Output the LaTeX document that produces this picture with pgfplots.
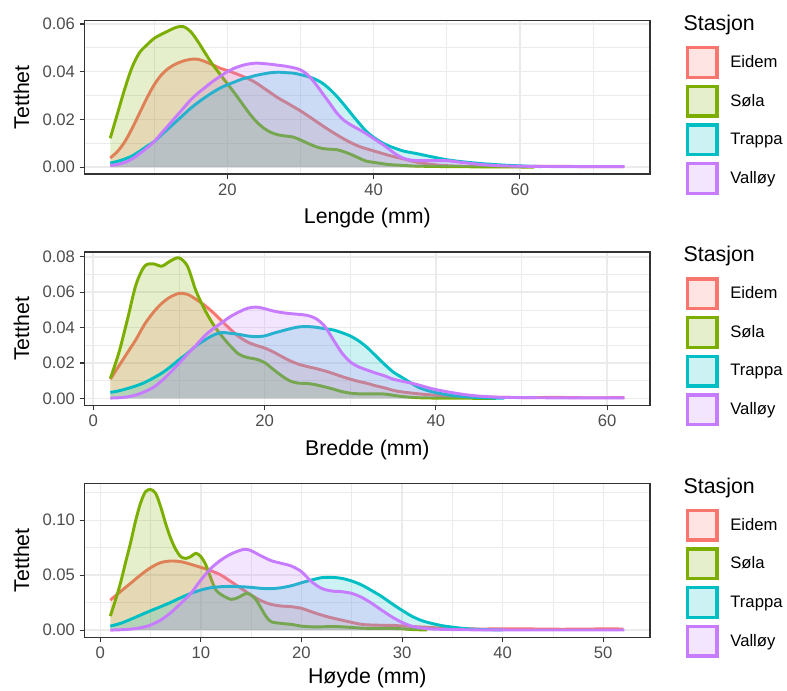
\documentclass[border=0pt]{standalone}
\usepackage{pgfplots}
\pgfplotsset{compat=1.18}
\usepackage{pgfplotstable}
\usepackage{fontspec}
\setmainfont{Liberation Sans}
\definecolor{cE}{HTML}{F8766D}
\definecolor{cS}{HTML}{7CAE00}
\definecolor{cT}{HTML}{00BFC4}
\definecolor{cV}{HTML}{C77CFF}
\definecolor{gridc}{HTML}{EBEBEB}
\definecolor{g20}{HTML}{333333}
\definecolor{g30}{HTML}{4D4D4D}

% ---------- Lengde ----------
\pgfplotstableread{
x y
4 0.0038
5 0.0066
6 0.0107
7 0.0163
8 0.0226
9 0.0289
10 0.0345
11 0.0387
12 0.0415
13 0.0433
14 0.0445
15 0.0452
16 0.0452
17 0.0442
18 0.0429
19 0.0415
20 0.0405
21 0.0394
22 0.0382
23 0.0369
24 0.0352
25 0.0331
26 0.0310
27 0.0289
28 0.0272
29 0.0254
30 0.0236
31 0.0216
32 0.0195
33 0.0174
34 0.0154
35 0.0135
36 0.0117
37 0.0101
38 0.0087
39 0.0077
40 0.0068
41 0.0059
42 0.0050
43 0.0042
44 0.0035
46 0.0020
48 0.0011
50 0.0006
53 0.0003
56 0.0002
60 0.0002
63 0.0003
66 0.0003
69 0.0002
72 0.0002
74.3 0.0002
}\LE
\pgfplotstableread{
x y
4 0.0121
5 0.0226
6 0.0330
7 0.0420
8 0.0480
9 0.0512
10 0.0540
11 0.0557
12 0.0572
13 0.0586
14 0.0589
15 0.0568
16 0.0526
17 0.0477
18 0.0430
19 0.0390
20 0.0350
21 0.0310
22 0.0268
23 0.0226
24 0.0190
25 0.0163
26 0.0145
27 0.0135
28 0.0130
29 0.0126
30 0.0114
31 0.0100
32 0.0087
33 0.0078
34 0.0075
35 0.0073
36 0.0064
37 0.0052
38 0.0038
39 0.0025
40 0.0020
42 0.0011
44 0.0007
46 0.0004
50 0.0002
55 0.0001
62 0.0000
}\LS
\pgfplotstableread{
x y
4 0.0017
5 0.0024
6 0.0034
7 0.0047
8 0.0066
9 0.0087
10 0.0107
11 0.0135
12 0.0163
13 0.0191
14 0.0219
15 0.0247
16 0.0271
17 0.0293
18 0.0313
19 0.0331
20 0.0345
21 0.0357
22 0.0369
23 0.0377
24 0.0385
25 0.0391
26 0.0396
27 0.0398
28 0.0396
29 0.0394
30 0.0388
31 0.0380
32 0.0369
33 0.0352
34 0.0327
35 0.0296
36 0.0260
37 0.0222
38 0.0185
39 0.0150
40 0.0125
41 0.0105
42 0.0090
44 0.0068
46 0.0056
48 0.0043
50 0.0031
52 0.0023
55 0.0014
58 0.0008
61 0.0004
63 0.0002
}\LT
\pgfplotstableread{
x y
4 0.0007
5 0.0011
6 0.0020
7 0.0034
8 0.0056
9 0.0080
10 0.0107
11 0.0142
12 0.0177
13 0.0212
14 0.0247
15 0.0282
16 0.0310
17 0.0335
18 0.0359
19 0.0380
20 0.0400
21 0.0415
22 0.0426
23 0.0433
24 0.0436
25 0.0434
26 0.0431
27 0.0427
28 0.0423
29 0.0417
30 0.0408
31 0.0387
32 0.0352
33 0.0310
34 0.0268
35 0.0226
36 0.0195
37 0.0175
38 0.0158
39 0.0140
40 0.0120
41 0.0100
42 0.0078
43 0.0055
44 0.0038
45 0.0030
46 0.0027
48 0.0027
50 0.0027
52 0.0020
55 0.0010
58 0.0005
62 0.0003
66 0.0002
70 0.0002
74.3 0.0002
}\LV

% ---------- Bredde ----------
\pgfplotstableread{
x y
2 0.0109
3 0.0184
4 0.0259
5 0.0334
6 0.0419
7 0.0485
8 0.0537
9 0.0573
10 0.0593
11 0.0588
12 0.0560
13 0.0526
14 0.0485
15 0.0438
16 0.0391
17 0.0349
18 0.0319
19 0.0300
20 0.0285
21 0.0263
22 0.0237
23 0.0212
24 0.0193
25 0.0180
26 0.0169
27 0.0156
28 0.0141
29 0.0124
30 0.0109
31 0.0096
32 0.0085
33 0.0071
34 0.0060
35 0.0046
36 0.0037
38 0.0026
40 0.0018
42 0.0013
45 0.0009
48 0.0006
51 0.0005
54 0.0006
57 0.0004
60 0.0004
62 0.0005
}\BE
\pgfplotstableread{
x y
2 0.0113
3 0.0259
4 0.0447
5 0.0644
6 0.0747
7 0.0760
8 0.0747
9 0.0776
10 0.0794
11 0.0747
12 0.0607
13 0.0503
14 0.0419
15 0.0353
16 0.0297
17 0.0250
18 0.0231
19 0.0222
20 0.0203
21 0.0165
22 0.0128
23 0.0098
24 0.0086
25 0.0085
26 0.0077
27 0.0066
28 0.0053
29 0.0039
30 0.0030
31 0.0026
32 0.0026
33 0.0026
34 0.0025
35 0.0018
36 0.0011
37 0.0007
38 0.0004
40 0.0002
44 0.0001
47 0.0000
}\BS
\pgfplotstableread{
x y
2 0.0034
3 0.0043
4 0.0056
5 0.0071
6 0.0090
7 0.0115
8 0.0143
9 0.0178
10 0.0218
11 0.0255
12 0.0297
13 0.0329
14 0.0357
15 0.0372
16 0.0368
17 0.0362
18 0.0353
19 0.0349
20 0.0353
21 0.0368
22 0.0381
23 0.0394
24 0.0404
25 0.0406
26 0.0402
27 0.0394
28 0.0387
29 0.0372
30 0.0353
31 0.0325
32 0.0287
33 0.0240
34 0.0193
35 0.0150
36 0.0120
37 0.0090
38 0.0062
39 0.0045
40 0.0033
42 0.0016
44 0.0008
46 0.0003
48 0.0001
}\BT
\pgfplotstableread{
x y
2 0.0002
3 0.0004
4 0.0009
5 0.0020
6 0.0038
7 0.0062
8 0.0100
9 0.0146
10 0.0197
11 0.0250
12 0.0300
13 0.0353
14 0.0394
15 0.0428
16 0.0462
17 0.0488
18 0.0509
19 0.0516
20 0.0507
21 0.0494
22 0.0485
23 0.0479
24 0.0475
25 0.0469
26 0.0451
27 0.0409
28 0.0334
29 0.0259
30 0.0207
31 0.0178
32 0.0160
33 0.0143
34 0.0128
35 0.0109
36 0.0098
37 0.0088
38 0.0076
39 0.0062
40 0.0050
42 0.0032
44 0.0018
46 0.0010
48 0.0006
52 0.0004
56 0.0003
62 0.0003
}\BV

% ---------- Hoyde ----------
\pgfplotstableread{
x y
1 0.0273
2 0.0350
3 0.0425
4 0.0501
5 0.0568
6 0.0614
7 0.0629
8 0.0623
9 0.0599
10 0.0571
11 0.0541
12 0.0501
13 0.0441
14 0.0380
15 0.0319
16 0.0267
17 0.0234
18 0.0219
19 0.0213
20 0.0198
21 0.0167
22 0.0137
23 0.0112
24 0.0091
25 0.0070
26 0.0052
27 0.0046
28 0.0044
29 0.0043
30 0.0038
32 0.0028
34 0.0018
36 0.0012
38 0.0010
40 0.0012
42 0.0012
44 0.0009
46 0.0008
48 0.0009
50 0.0011
52 0.0010
}\HE
\pgfplotstableread{
x y
1 0.0128
1.5 0.0270
2 0.0425
2.5 0.0610
3 0.0790
3.5 0.0990
4 0.1155
4.5 0.1260
5 0.1280
5.5 0.1246
6 0.1125
6.5 0.0970
7 0.0836
7.5 0.0735
8 0.0669
8.5 0.0653
9 0.0669
9.5 0.0700
10 0.0669
10.5 0.0593
11 0.0471
11.5 0.0365
12 0.0325
12.5 0.0298
13 0.0280
13.5 0.0289
14 0.0310
14.5 0.0334
15 0.0319
15.5 0.0274
16 0.0198
16.5 0.0122
17 0.0076
18 0.0061
19 0.0052
20 0.0036
21 0.0030
22 0.0030
23 0.0033
24 0.0030
25 0.0024
26 0.0018
27 0.0015
28 0.0015
29 0.0015
30 0.0012
31 0.0005
32.5 0.0001
}\HS
\pgfplotstableread{
x y
1 0.0036
2 0.0061
3 0.0097
4 0.0137
5 0.0176
6 0.0213
7 0.0252
8 0.0295
9 0.0334
10 0.0365
11 0.0386
12 0.0395
13 0.0398
14 0.0395
15 0.0389
16 0.0380
17 0.0377
18 0.0386
19 0.0404
20 0.0431
21 0.0456
22 0.0477
23 0.0480
24 0.0471
25 0.0447
26 0.0410
27 0.0359
28 0.0304
29 0.0240
30 0.0180
31 0.0125
32 0.0085
33 0.0060
34 0.0040
35 0.0027
36 0.0016
37 0.0009
38 0.0005
40 0.0001
}\HT
\pgfplotstableread{
x y
1 0.0000
2 0.0003
3 0.0009
4 0.0021
5 0.0046
6 0.0091
7 0.0158
8 0.0243
9 0.0334
10 0.0456
11 0.0562
12 0.0638
13 0.0693
14 0.0729
14.5 0.0735
15 0.0723
16 0.0675
17 0.0632
18 0.0608
19 0.0583
20 0.0532
21 0.0441
22 0.0380
23 0.0356
24 0.0350
25 0.0334
26 0.0298
27 0.0243
28 0.0180
29 0.0120
30 0.0070
31 0.0035
32 0.0018
33 0.0010
35 0.0005
38 0.0002
42 0.0001
46 0.0001
52.1 0.0001
}\HV

\newcommand{\dens}[2]{%
  \addplot[draw=none, fill=#1, fill opacity=0.2, smooth, forget plot] table[x=x,y=y] {#2} \closedcycle;
  \addplot[draw=#1, line width=2.2pt, smooth, line join=round, forget plot] table[x=x,y=y] {#2};
}
\newcommand{\legendstuff}{%
  \addlegendimage{draw=cE, fill=cE, fill opacity=0.2}\addlegendentry{Eidem}
  \addlegendimage{draw=cS, fill=cS, fill opacity=0.2}\addlegendentry{Søla}
  \addlegendimage{draw=cT, fill=cT, fill opacity=0.2}\addlegendentry{Trappa}
  \addlegendimage{draw=cV, fill=cV, fill opacity=0.2}\addlegendentry{Valløy}
  \node[anchor=base west, inner sep=0pt, font=\fontsize{16}{19}\selectfont] at (axis description cs:1.059,0.935) {Stasjon};
}

\pgfplotsset{
  panel/.style={
    scale only axis, width=424pt, height=115pt, anchor=north west,
    clip mode=individual,
    axis line style={draw=g20, line width=0.8pt},
    tick align=outside, tick pos=left,
    major tick length=3.75pt, minor tick length=0pt,
    every tick/.style={g20, line width=0.8pt},
    xmajorgrids, ymajorgrids, xminorgrids, yminorgrids,
    major grid style={gridc, line width=1.1pt},
    minor grid style={gridc, line width=0.55pt},
    scaled y ticks=false, scaled x ticks=false,
    tick label style={font=\fontsize{12.5}{15}\selectfont, color=g30},
    /pgf/number format/assume math mode=true,
    yticklabel style={/pgf/number format/.cd, fixed, fixed zerofill, precision=2},
    label style={font=\fontsize{16}{19}\selectfont},
    ylabel={Tetthet},
    ylabel style={at={(axis description cs:-0.1118,0.5)}, anchor=center},
    xlabel style={at={(axis description cs:0.5,-0.326)}, anchor=base},
    legend image code/.code={\draw[#1, line width=2.5pt] (0pt,-11.1pt) rectangle (22.25pt,11.1pt);},
    legend cell align=left,
    legend style={at={(axis description cs:1.063,0.835)}, anchor=north west,
      draw=none, fill=none, inner sep=0pt, outer sep=0pt, row sep=4.3pt,
      font=\fontsize{12.5}{15}\selectfont,
      /tikz/every odd column/.append style={column sep=6.8pt}},
  },
}

\begin{document}
\begin{tikzpicture}
\path[use as bounding box] (0,0) rectangle (590.25pt,-517.5pt);

\begin{axis}[panel, at={(63.5pt,-15.5pt)},
  xmin=0.5, xmax=77.8, ymin=-0.0029, ymax=0.0614,
  xtick={20,40,60}, minor xtick={10,30,50,70},
  ytick={0,0.02,0.04,0.06}, minor ytick={0.01,0.03,0.05},
  xlabel={Lengde (mm)}]
\dens{cE}{\LE}
\dens{cS}{\LS}
\dens{cT}{\LT}
\dens{cV}{\LV}
\legendstuff
\end{axis}

\begin{axis}[panel, at={(63.5pt,-189pt)},
  xmin=-1, xmax=65, ymin=-0.0039, ymax=0.0827,
  xtick={0,20,40,60}, minor xtick={10,30,50},
  ytick={0,0.02,0.04,0.06,0.08}, minor ytick={0.01,0.03,0.05,0.07},
  xlabel={Bredde (mm)}]
\dens{cE}{\BE}
\dens{cS}{\BS}
\dens{cT}{\BT}
\dens{cV}{\BV}
\legendstuff
\end{axis}

\begin{axis}[panel, at={(63.5pt,-362.5pt)}, height=115.5pt,
  xmin=-1.55, xmax=54.65, ymin=-0.0066, ymax=0.1336,
  xtick={0,10,20,30,40,50}, minor xtick={5,15,25,35,45},
  ytick={0,0.05,0.1}, minor ytick={0.025,0.075,0.125},
  xlabel={Høyde (mm)},
  xlabel style={at={(axis description cs:0.5,-0.298)}, anchor=base}]
\dens{cE}{\HE}
\dens{cS}{\HS}
\dens{cT}{\HT}
\dens{cV}{\HV}
\legendstuff
\end{axis}
\end{tikzpicture}
\end{document}
